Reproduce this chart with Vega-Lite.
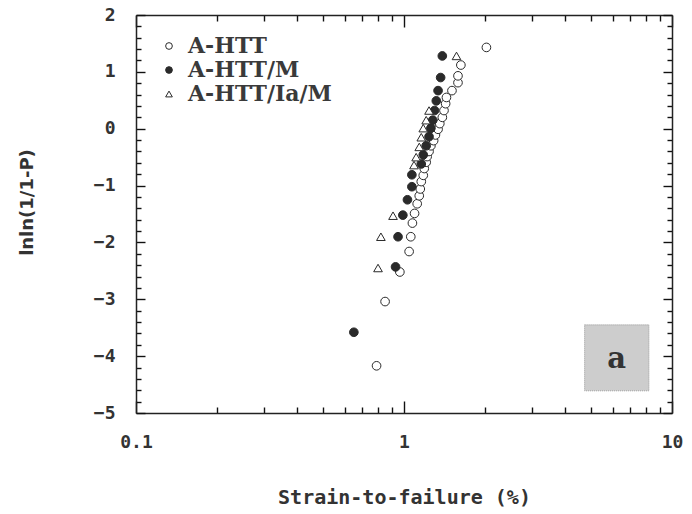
{
  "$schema": "https://vega.github.io/schema/vega-lite/v6.json",
  "width": 536,
  "height": 398,
  "autosize": {"type": "none"},
  "padding": {"left": 136, "top": 15, "right": 20, "bottom": 101},
  "background": "white",
  "config": {
    "view": {"stroke": null},
    "axis": {
      "domainColor": "#222",
      "domainWidth": 1.5,
      "ticks": true,
      "tickColor": "#111",
      "tickOpacity": 1,
      "tickWidth": 1.4,
      "grid": false,
      "labelFont": "DejaVu Sans Mono",
      "labelFontWeight": "bold",
      "labelFontSize": 18,
      "labelColor": "#333",
      "titleColor": "#333"
    }
  },
  "data": {
    "values": [
      {"strain": 0.79, "lnln": -4.17, "series": "A-HTT"},
      {"strain": 0.85, "lnln": -3.04, "series": "A-HTT"},
      {"strain": 0.965, "lnln": -2.52, "series": "A-HTT"},
      {"strain": 1.045, "lnln": -2.16, "series": "A-HTT"},
      {"strain": 1.06, "lnln": -1.9, "series": "A-HTT"},
      {"strain": 1.075, "lnln": -1.66, "series": "A-HTT"},
      {"strain": 1.095, "lnln": -1.49, "series": "A-HTT"},
      {"strain": 1.12, "lnln": -1.32, "series": "A-HTT"},
      {"strain": 1.14, "lnln": -1.18, "series": "A-HTT"},
      {"strain": 1.15, "lnln": -1.06, "series": "A-HTT"},
      {"strain": 1.16, "lnln": -0.93, "series": "A-HTT"},
      {"strain": 1.18, "lnln": -0.82, "series": "A-HTT"},
      {"strain": 1.19, "lnln": -0.7, "series": "A-HTT"},
      {"strain": 1.21, "lnln": -0.59, "series": "A-HTT"},
      {"strain": 1.22, "lnln": -0.49, "series": "A-HTT"},
      {"strain": 1.24, "lnln": -0.4, "series": "A-HTT"},
      {"strain": 1.26, "lnln": -0.3, "series": "A-HTT"},
      {"strain": 1.29, "lnln": -0.21, "series": "A-HTT"},
      {"strain": 1.31, "lnln": -0.11, "series": "A-HTT"},
      {"strain": 1.34, "lnln": -0.01, "series": "A-HTT"},
      {"strain": 1.36, "lnln": 0.09, "series": "A-HTT"},
      {"strain": 1.39, "lnln": 0.2, "series": "A-HTT"},
      {"strain": 1.41, "lnln": 0.32, "series": "A-HTT"},
      {"strain": 1.43, "lnln": 0.44, "series": "A-HTT"},
      {"strain": 1.44, "lnln": 0.55, "series": "A-HTT"},
      {"strain": 1.51, "lnln": 0.67, "series": "A-HTT"},
      {"strain": 1.59, "lnln": 0.81, "series": "A-HTT"},
      {"strain": 1.59, "lnln": 0.93, "series": "A-HTT"},
      {"strain": 1.63, "lnln": 1.12, "series": "A-HTT"},
      {"strain": 2.03, "lnln": 1.43, "series": "A-HTT"},
      {"strain": 0.65, "lnln": -3.58, "series": "A-HTT/M"},
      {"strain": 0.93, "lnln": -2.43, "series": "A-HTT/M"},
      {"strain": 0.95, "lnln": -1.9, "series": "A-HTT/M"},
      {"strain": 0.99, "lnln": -1.52, "series": "A-HTT/M"},
      {"strain": 1.03, "lnln": -1.25, "series": "A-HTT/M"},
      {"strain": 1.07, "lnln": -1.02, "series": "A-HTT/M"},
      {"strain": 1.07, "lnln": -0.81, "series": "A-HTT/M"},
      {"strain": 1.16, "lnln": -0.62, "series": "A-HTT/M"},
      {"strain": 1.18, "lnln": -0.46, "series": "A-HTT/M"},
      {"strain": 1.21, "lnln": -0.3, "series": "A-HTT/M"},
      {"strain": 1.24, "lnln": -0.14, "series": "A-HTT/M"},
      {"strain": 1.26, "lnln": 0.01, "series": "A-HTT/M"},
      {"strain": 1.28, "lnln": 0.15, "series": "A-HTT/M"},
      {"strain": 1.3, "lnln": 0.32, "series": "A-HTT/M"},
      {"strain": 1.32, "lnln": 0.49, "series": "A-HTT/M"},
      {"strain": 1.34, "lnln": 0.67, "series": "A-HTT/M"},
      {"strain": 1.37, "lnln": 0.9, "series": "A-HTT/M"},
      {"strain": 1.39, "lnln": 1.28, "series": "A-HTT/M"},
      {"strain": 0.8, "lnln": -2.45, "series": "A-HTT/Ia/M"},
      {"strain": 0.82, "lnln": -1.9, "series": "A-HTT/Ia/M"},
      {"strain": 0.91, "lnln": -1.53, "series": "A-HTT/Ia/M"},
      {"strain": 1.09, "lnln": -0.64, "series": "A-HTT/Ia/M"},
      {"strain": 1.11, "lnln": -0.5, "series": "A-HTT/Ia/M"},
      {"strain": 1.14, "lnln": -0.32, "series": "A-HTT/Ia/M"},
      {"strain": 1.16, "lnln": -0.15, "series": "A-HTT/Ia/M"},
      {"strain": 1.18, "lnln": 0.01, "series": "A-HTT/Ia/M"},
      {"strain": 1.21, "lnln": 0.15, "series": "A-HTT/Ia/M"},
      {"strain": 1.24, "lnln": 0.32, "series": "A-HTT/Ia/M"},
      {"strain": 1.57, "lnln": 1.28, "series": "A-HTT/Ia/M"}
    ]
  },
  "resolve": {"axis": {"x": "independent", "y": "independent"}},
  "layer": [
    {
      "mark": {"type": "point", "size": 75, "strokeWidth": 1, "opacity": 1, "filled": false},
      "encoding": {
        "x": {
          "field": "strain", "type": "quantitative",
          "scale": {"type": "log", "domain": [0.1, 10]},
          "axis": {
            "orient": "bottom",
            "ticks": true,
            "values": [0.1, 0.2, 0.3, 0.4, 0.5, 0.6, 0.7, 0.8, 0.9, 1, 2, 3, 4, 5, 6, 7, 8, 9, 10],
            "format": "~g",
            "labelExpr": "(datum.value == 0.1 || datum.value == 1 || datum.value == 10) ? datum.label : ''",
            "tickSize": {"condition": {"test": "datum.value == 0.1 || datum.value == 1 || datum.value == 10", "value": -12}, "value": -6},
            "labelPadding": 32,
            "labelFlush": false,
            "labelOverlap": false,
            "title": "Strain-to-failure (%)",
            "titleFont": "DejaVu Sans Mono",
            "titleFontWeight": "bold",
            "titleFontSize": 20,
            "titlePadding": 30
          }
        },
        "y": {
          "field": "lnln", "type": "quantitative",
          "scale": {"domain": [-5, 2], "nice": false, "zero": false},
          "axis": {
            "orient": "left",
            "ticks": true,
            "values": [-5, -4.8, -4.6, -4.4, -4.2, -4, -3.8, -3.6, -3.4, -3.2, -3, -2.8, -2.6, -2.4, -2.2, -2, -1.8, -1.6, -1.4, -1.2, -1, -0.8, -0.6, -0.4, -0.2, 0, 0.2, 0.4, 0.6, 0.8, 1, 1.2, 1.4, 1.6, 1.8, 2],
            "labelExpr": "datum.value % 1 == 0 ? format(datum.value, 'd') : ''",
            "tickSize": {"condition": {"test": "datum.value % 1 == 0", "value": -9}, "value": -5},
            "labelPadding": 30,
            "labelOverlap": false,
            "labelFlush": false,
            "title": "lnln(1/1-P)",
            "titleFont": "DejaVu Sans",
            "titleFontWeight": "bold",
            "titleFontSize": 18,
            "titleX": -109,
            "titleY": 187,
            "titleBaseline": "middle"
          }
        },
        "shape": {
          "field": "series", "type": "nominal", "title": null,
          "scale": {"domain": ["A-HTT", "A-HTT/M", "A-HTT/Ia/M"], "range": ["circle", "circle", "triangle-up"]},
          "legend": {
            "orient": "none", "legendX": 22, "legendY": 20, "padding": 0,
            "symbolSize": 45, "symbolStrokeWidth": 1,
            "labelFont": "DejaVu Serif", "labelFontWeight": "bold", "labelFontSize": 22,
            "labelColor": "#3a3a3a", "labelOffset": 8, "rowPadding": 2, "labelLimit": 300
          }
        },
        "fill": {
          "field": "series", "type": "nominal", "title": null,
          "scale": {"domain": ["A-HTT", "A-HTT/M", "A-HTT/Ia/M"], "range": ["white", "#2a2a2a", "white"]},
          "legend": {
            "orient": "none", "legendX": 22, "legendY": 20, "padding": 0,
            "symbolSize": 45, "symbolStrokeWidth": 1,
            "labelFont": "DejaVu Serif", "labelFontWeight": "bold", "labelFontSize": 22,
            "labelColor": "#3a3a3a", "labelOffset": 8, "rowPadding": 2, "labelLimit": 300
          }
        },
        "stroke": {
          "field": "series", "type": "nominal", "title": null,
          "scale": {"domain": ["A-HTT", "A-HTT/M", "A-HTT/Ia/M"], "range": ["#2a2a2a", "#2a2a2a", "#2a2a2a"]},
          "legend": {
            "orient": "none", "legendX": 22, "legendY": 20, "padding": 0,
            "symbolSize": 45, "symbolStrokeWidth": 1,
            "labelFont": "DejaVu Serif", "labelFontWeight": "bold", "labelFontSize": 22,
            "labelColor": "#3a3a3a", "labelOffset": 8, "rowPadding": 2, "labelLimit": 300
          }
        }
      }
    },
    {
      "mark": {"type": "point", "opacity": 0},
      "encoding": {
        "x": {
          "field": "strain", "type": "quantitative",
          "scale": {"type": "log", "domain": [0.1, 10]},
          "axis": {
            "orient": "top", "labels": false, "title": null, "ticks": true,
            "values": [0.1, 0.2, 0.3, 0.4, 0.5, 0.6, 0.7, 0.8, 0.9, 1, 2, 3, 4, 5, 6, 7, 8, 9, 10],
            "tickSize": {"condition": {"test": "datum.value == 0.1 || datum.value == 1 || datum.value == 10", "value": -12}, "value": -6}
          }
        },
        "y": {
          "field": "lnln", "type": "quantitative",
          "scale": {"domain": [-5, 2], "nice": false, "zero": false},
          "axis": {
            "orient": "right", "labels": false, "title": null, "ticks": true,
            "values": [-5, -4.8, -4.6, -4.4, -4.2, -4, -3.8, -3.6, -3.4, -3.2, -3, -2.8, -2.6, -2.4, -2.2, -2, -1.8, -1.6, -1.4, -1.2, -1, -0.8, -0.6, -0.4, -0.2, 0, 0.2, 0.4, 0.6, 0.8, 1, 1.2, 1.4, 1.6, 1.8, 2],
            "tickSize": {"condition": {"test": "datum.value % 1 == 0", "value": -9}, "value": -5}
          }
        }
      }
    },
    {
      "data": {"values": [{"panel": "a"}]},
      "mark": {"type": "rect", "fill": "#cdcdcd", "stroke": "#9a9a9a", "strokeWidth": 1, "strokeDash": [1, 1]},
      "encoding": {
        "x": {"datum": 4.72, "type": "quantitative", "scale": {"type": "log", "domain": [0.1, 10]}, "axis": null},
        "x2": {"datum": 8.2},
        "y": {"datum": -3.45, "type": "quantitative", "scale": {"domain": [-5, 2], "nice": false, "zero": false}, "axis": null},
        "y2": {"datum": -4.61}
      }
    },
    {
      "data": {"values": [{"panel": "a"}]},
      "mark": {"type": "text", "font": "DejaVu Serif", "fontWeight": "bold", "fontSize": 29, "color": "#333", "baseline": "middle", "align": "center"},
      "encoding": {
        "x": {"datum": 6.22, "type": "quantitative", "scale": {"type": "log", "domain": [0.1, 10]}, "axis": null},
        "y": {"datum": -4.05, "type": "quantitative", "scale": {"domain": [-5, 2], "nice": false, "zero": false}, "axis": null},
        "text": {"field": "panel"}
      }
    }
  ]
}
